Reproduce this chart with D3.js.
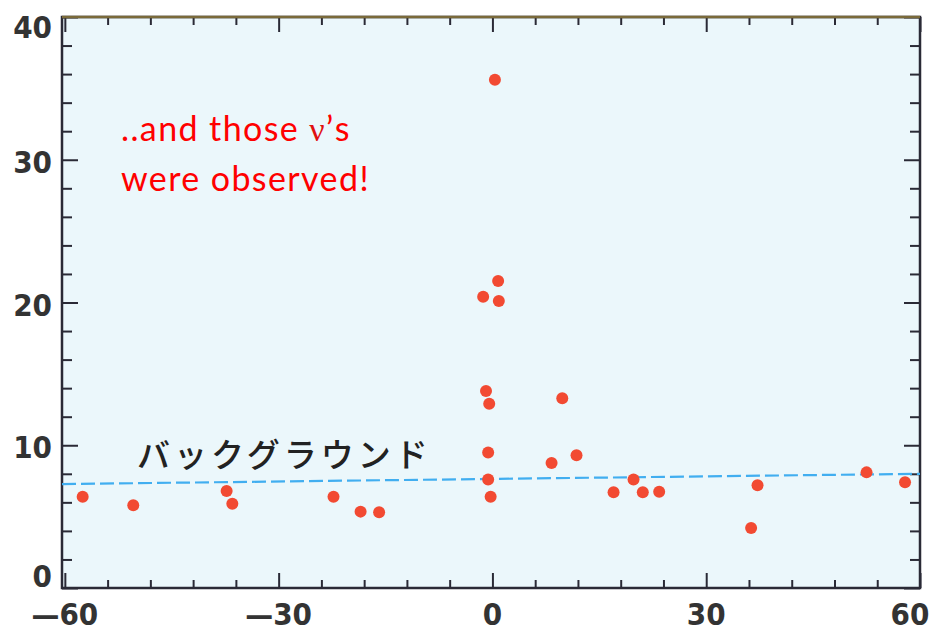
<!DOCTYPE html>
<html>
<head>
<meta charset="utf-8">
<script src="https://cdn.jsdelivr.net/npm/d3@7"></script>
<style>
  body { margin: 0; background: #fff; }
  svg { display: block; }
</style>
</head>
<body>
<svg></svg>
<script>
// angle (deg) vs. event count
const angles = [-57.5, -50.4, -37.3, -36.5, -22.3, -18.5, -15.9,
  -0.6, -0.6, -0.25, 8.3, 11.8, 17.0, 19.8, 21.1, 23.4, 36.3, 37.2, 52.5, 57.9,
  0.35, 0.8, -1.3, 0.9, -0.9, -0.45, 9.8];
const counts = [6.4, 5.8, 6.8, 5.9, 6.4, 5.35, 5.3,
  9.5, 7.6, 6.4, 8.75, 9.3, 6.7, 7.6, 6.7, 6.75, 4.2, 7.2, 8.1, 7.4,
  35.6, 21.5, 20.4, 20.1, 13.8, 12.9, 13.3];
const bgX = [-60.4, 60];
const bgY = [7.28, 8.0];
const xMajor = [-60, -30, 0, 30, 60];
const xMinor = [-54, -48, -42, -36, -24, -18, -12, -6, 6, 12, 18, 24, 36, 42, 48, 54];
const yMajor = [0, 10, 20, 30, 40];
const yMinor = [2, 4, 6, 8, 12, 14, 16, 18, 22, 24, 26, 28, 32, 34, 36, 38];

const [svgWidth, svgHeight] = [940, 632];
const svg = d3.select('svg')
  .attr('width', svgWidth)
  .attr('height', svgHeight);

const [pLeft, pRight, pTop, pBottom] = [62, 920, 17, 588];
const x = d3.scaleLinear().domain([-60.4, 60]).range([pLeft, pRight]);
const y = d3.scaleLinear().domain([0, 40]).range([pBottom, pTop]);

svg.append('rect')
  .attr('x', pLeft).attr('y', pTop)
  .attr('width', pRight - pLeft).attr('height', pBottom - pTop)
  .attr('fill', '#ebf7fb');

// inward ticks on all four sides
const frameColor = '#2a2a36';
const addAxis = (axis, tx, ty) => {
  const g = svg.append('g')
    .attr('transform', `translate(${tx}, ${ty})`)
    .call(axis);
  g.select('.domain').remove();
  g.selectAll('text').remove();
  g.selectAll('line').attr('stroke', frameColor).attr('stroke-width', 2);
};
addAxis(d3.axisBottom(x).tickValues(xMajor).tickSize(-15), 0, pBottom);
addAxis(d3.axisBottom(x).tickValues(xMinor).tickSize(-8), 0, pBottom);
addAxis(d3.axisTop(x).tickValues(xMajor).tickSize(-15), 0, pTop);
addAxis(d3.axisTop(x).tickValues(xMinor).tickSize(-8), 0, pTop);
addAxis(d3.axisLeft(y).tickValues(yMajor).tickSize(-16), pLeft, 0);
addAxis(d3.axisLeft(y).tickValues(yMinor).tickSize(-10), pLeft, 0);
addAxis(d3.axisRight(y).tickValues(yMajor).tickSize(-16), pRight, 0);
addAxis(d3.axisRight(y).tickValues(yMinor).tickSize(-10), pRight, 0);

svg.append('rect')
  .attr('x', pLeft).attr('y', pTop)
  .attr('width', pRight - pLeft).attr('height', pBottom - pTop)
  .attr('fill', 'none')
  .attr('stroke', frameColor)
  .attr('stroke-width', 2.5);
svg.append('line')
  .attr('x1', pLeft).attr('x2', pRight)
  .attr('y1', pTop).attr('y2', pTop)
  .attr('stroke', '#7a6a3a')
  .attr('stroke-width', 2.5);

// tick labels
const labelFont = '"Liberation Sans Narrow", "DejaVu Sans Condensed", sans-serif';
svg.append('g').selectAll('text')
  .data(yMajor)
  .join('text')
  .attr('x', 52)
  .attr('y', d => Math.min(576, Math.max(27, y(d) + 2)))
  .attr('dy', '0.36em')
  .attr('text-anchor', 'end')
  .attr('font-family', labelFont)
  .attr('font-weight', 'bold')
  .attr('font-size', 31)
  .attr('fill', '#333')
  .text(d => d);
svg.append('g').selectAll('text')
  .data(xMajor)
  .join('text')
  .attr('x', d => Math.min(910, x(d)))
  .attr('y', 625)
  .attr('text-anchor', 'middle')
  .attr('font-family', labelFont)
  .attr('font-weight', 'bold')
  .attr('font-size', 31)
  .attr('fill', '#333')
  .text(d => d < 0 ? `\u2014${-d}` : d);

// background level
svg.append('path')
  .datum(d3.zip(bgX, bgY))
  .attr('d', d3.line().x(d => x(d[0])).y(d => y(d[1])))
  .attr('fill', 'none')
  .attr('stroke', '#41aef0')
  .attr('stroke-width', 2.2)
  .attr('stroke-dasharray', '14,5');

svg.append('text')
  .attr('x', 137)
  .attr('y', 467)
  .attr('font-family', '"Noto Sans CJK JP", sans-serif')
  .attr('font-weight', 500)
  .attr('font-size', 33)
  .attr('letter-spacing', 4)
  .attr('fill', '#222')
  .text('バックグラウンド');

// events
svg.append('g').selectAll('circle')
  .data(d3.zip(angles, counts))
  .join('circle')
  .attr('cx', d => x(d[0]))
  .attr('cy', d => y(d[1]))
  .attr('r', 6)
  .attr('fill', '#f24a32');

// annotation
const note = svg.append('text')
  .attr('font-family', 'Lato, "Open Sans", sans-serif')
  .attr('font-size', 34)
  .attr('letter-spacing', 1.4)
  .attr('fill', '#ff0000');
const line1 = note.append('tspan').attr('x', 121).attr('y', 141);
line1.append('tspan').text('..and those ');
line1.append('tspan')
  .attr('font-family', '"Liberation Serif", serif')
  .attr('fill', '#e01010')
  .text('\u03bd');
line1.append('tspan').text('\u2019s');
note.append('tspan').attr('x', 121).attr('y', 191).text('were observed!');
</script>
</body>
</html>
